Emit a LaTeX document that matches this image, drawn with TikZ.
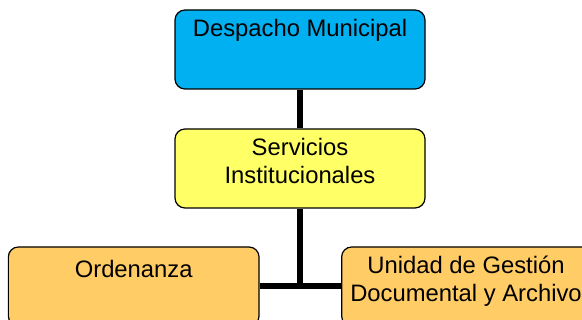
\documentclass[tikz,border=0pt]{standalone}
\usepackage{fontspec}
\setmainfont{Liberation Sans}
\definecolor{boxblue}{HTML}{00B0F0}
\definecolor{boxyellow}{HTML}{FFFF66}
\definecolor{boxorange}{HTML}{FFCC66}
\begin{document}
\begin{tikzpicture}[x=1pt,y=-1pt,
  box/.style={draw=black, line width=1.2pt, rounded corners=10pt, minimum width=250pt, minimum height=79pt, inner sep=0pt},
  lbl/.style={anchor=base, align=center, inner sep=0pt, font=\fontsize{23.8pt}{28pt}\selectfont},
  conn/.style={line width=6pt, black}]
\useasboundingbox (0,0) rectangle (582,320);
\node[box, fill=boxblue] (desp) at (300,49.5) {};
\node[box, fill=boxyellow] (serv) at (300,168.5) {};
\node[box, fill=boxorange, minimum width=250.7pt] (ord) at (133.7,286.5) {};
\node[box, fill=boxorange, minimum width=250.7pt] (uni) at (467,286.5) {};
\draw[conn] (desp.south) -- (serv.north);
\draw[conn] (serv.south) -- (serv.south |- ord.east);
\draw[conn] (ord.east) -- (uni.west);
\node[lbl] (despT) at (300,36.7) {Despacho Municipal};
\node[lbl] (servT) at (300,184) {Servicios\\Institucionales};
\node[lbl] (ordT) at (133.7,277.7) {Ordenanza};
\node[lbl] (uniT) at (466,301.7) {Unidad de Gestión\\Documental y Archivo};
\end{tikzpicture}
\end{document}
